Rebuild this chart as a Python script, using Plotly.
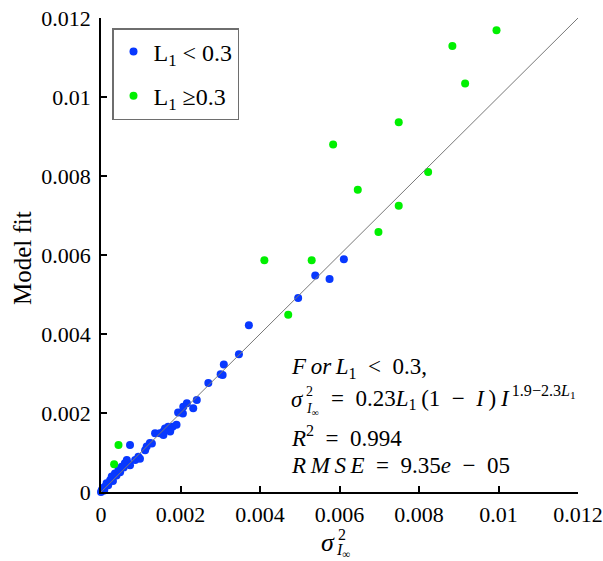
import plotly.graph_objects as go

# Observed variance vs. model fit, split by L1
blue_x = [0.0, 0.00002, 0.00005, 0.00008, 0.0001, 0.00014, 0.00018, 0.00023, 0.00027, 0.0003,
          0.00035, 0.00039, 0.00044, 0.00048, 0.00052, 0.00057, 0.0006, 0.00065, 0.00068, 0.00073,
          0.00086, 0.00094, 0.00098, 0.00111, 0.00115, 0.00123, 0.00073, 0.00128, 0.00136, 0.00148,
          0.00157, 0.00157, 0.00174, 0.00161, 0.00169, 0.0018, 0.0019, 0.00194, 0.00206, 0.00207,
          0.00216, 0.00232, 0.00241, 0.0027, 0.00301, 0.00306, 0.00309, 0.00347, 0.00372, 0.00496,
          0.00539, 0.00575, 0.00611]
blue_y = [0.0, 0.00005, 0.0001, 0.00004, 0.00013, 0.00022, 0.00017, 0.0003, 0.00039, 0.00028,
          0.00047, 0.00042, 0.00056, 0.0005, 0.00064, 0.00062, 0.00073, 0.00081, 0.00072, 0.00068,
          0.00081, 0.00089, 0.00084, 0.00106, 0.00115, 0.00124, 0.00119, 0.00123, 0.00149, 0.00149,
          0.00144, 0.00153, 0.00153, 0.00161, 0.00165, 0.00165, 0.0017, 0.00201, 0.00199, 0.00216,
          0.00225, 0.00212, 0.00233, 0.00276, 0.00298, 0.00296, 0.00323, 0.00349, 0.00422, 0.00491,
          0.00548, 0.00539, 0.00589]

green_x = [0.00033, 0.00044, 0.00411, 0.00471, 0.0053, 0.00584, 0.00646, 0.00698, 0.00749,
           0.00749, 0.00823, 0.00884, 0.00916, 0.00995]
green_y = [0.0007, 0.00119, 0.00587, 0.00449, 0.00587, 0.0088, 0.00765, 0.00658, 0.00725,
           0.00936, 0.0081, 0.01129, 0.01034, 0.01169]

identity = [0.0, 0.012]

tick_vals = [0, 0.002, 0.004, 0.006, 0.008, 0.01, 0.012]
tick_text = ["0", "0.002", "0.004", "0.006", "0.008", "0.01", "0.012"]

SERIF = "Liberation Serif"
BLUE = "rgb(8,56,255)"
GREEN = "rgb(0,240,0)"

# plot area in pixels
L, R, T, B = 101, 25, 18, 69
W, H = 603, 561
PW, PH = W - L - R, H - T - B

EN = "\u2002"    # en space
TH = "\u2009"    # thin space


def px(x):
    return (x - L) / PW


def py(y):
    return (T + PH - y) / PH


fig = go.Figure()
fig.add_trace(go.Scatter(x=blue_x, y=blue_y, mode="markers", name="L<sub>1</sub> < 0.3",
                         legendgroup="a", cliponaxis=False,
                         marker=dict(color=BLUE, size=8, line=dict(width=0))))
fig.add_trace(go.Scatter(x=green_x, y=green_y, mode="markers", name="L<sub>1</sub> ≥0.3",
                         legendgroup="b", cliponaxis=False,
                         marker=dict(color=GREEN, size=8, line=dict(width=0))))
fig.add_trace(go.Scatter(x=identity, y=identity, mode="lines", showlegend=False,
                         line=dict(color="rgb(120,120,120)", width=1), hoverinfo="skip"))

axis_common = dict(range=[0, 0.012], tickvals=tick_vals, ticktext=tick_text,
                   showline=True, linecolor="black", linewidth=1.5, mirror=False,
                   ticks="inside", ticklen=6, tickwidth=1.5, tickcolor="black",
                   showgrid=False, zeroline=False, automargin=False,
                   tickfont=dict(family=SERIF, size=22, color="black"))

fig.update_xaxes(**axis_common, ticklabelstandoff=2)
fig.update_yaxes(**axis_common, ticklabelstandoff=4)

annotations = []


def text(x, y, s, size, **kw):
    annotations.append(dict(x=px(x), y=py(y), xref="paper", yref="paper", text=s,
                            showarrow=False, xanchor=kw.get("xanchor", "left"),
                            yanchor="middle",
                            font=dict(family=SERIF, size=size, color="black"),
                            textangle=kw.get("angle", 0)))


# axis titles
text(22, 258, "Model fit", 25, xanchor="center", angle=-90)
text(319, 542, "<i>σ</i>", 26)
text(336, 534, "2", 16)
text(334, 550, "<i>I</i><sub>∞</sub>", 16)

# fit summary
X0 = 289
text(X0, 368, f"<i>F{TH}or{TH}L</i><sub>1</sub>{EN}<{EN}0.3,", 23)
text(X0, 399, "<i>σ</i>", 23)
text(X0 + 15, 391, "2", 14)
text(X0 + 15, 409, "<i>I</i><sub>∞</sub>", 14)
text(X0 + 40, 397,
     f"={EN}0.23<i>L</i><sub>1</sub>{TH}(1{EN}−{EN}<i>I</i>{TH}){TH}<i>I</i>"
     f"<sup>{TH}1.9−2.3<i>L</i><sub>1</sub></sup>", 23)
text(X0, 436, f"<i>R</i><sup>2</sup>{EN}={EN}0.994", 23)
text(X0, 465, f"<i>R{TH}M{TH}S{TH}E</i>{EN}={EN}9.35<i>e</i>{EN}−{EN}05", 23)

fig.update_layout(
    width=W, height=H,
    margin=dict(l=L, r=R, t=T, b=B),
    paper_bgcolor="white", plot_bgcolor="white",
    showlegend=True,
    legend=dict(x=px(112), y=py(28), xanchor="left", yanchor="top",
                bordercolor="rgb(110,110,110)", borderwidth=1.5, bgcolor="white",
                font=dict(family=SERIF, size=24, color="black"),
                tracegroupgap=10),
    annotations=annotations,
)

fig.write_html("out.html")
